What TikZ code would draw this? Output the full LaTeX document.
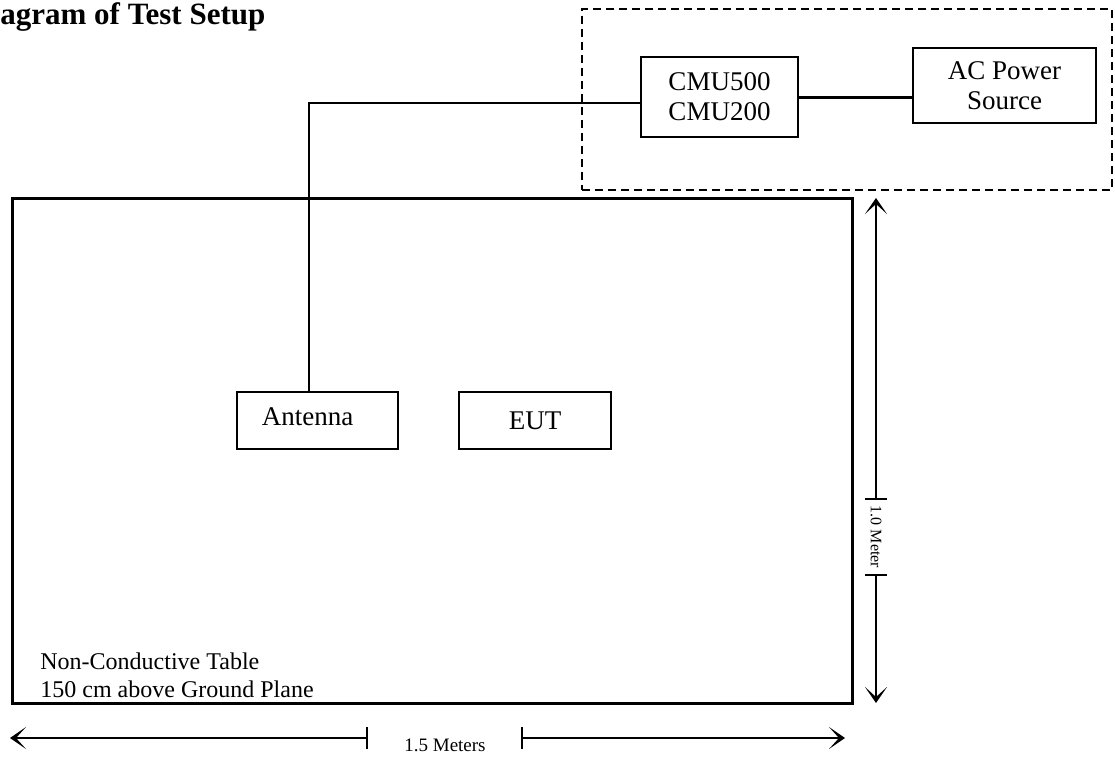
\documentclass[tikz,border=0pt]{standalone}
\usepackage{fontspec}
\setmainfont{Liberation Serif}
\usetikzlibrary{arrows.meta}

\begin{document}
\begin{tikzpicture}[
  x=0.5pt, y=-0.5pt,
  font=\fontsize{13.5}{15}\selectfont,
  unitbox/.style={draw, line width=0.7pt, inner sep=0pt, align=center},
  dimline/.style={line width=0.6pt, -{Stealth[length=8pt, width=11pt, inset=5pt]}},
  dimtick/.style={line width=0.6pt},
  dimtext/.style={font=\fontsize{9.5}{11}\selectfont, inner sep=1pt}
]
\useasboundingbox (0,0) rectangle (1115,760);

% Title
\node[anchor=base west, inner sep=0pt, font=\fontsize{15.5}{18}\selectfont\bfseries] (title) at (0,25) {agram of Test Setup};

% Support equipment (dashed area)
\node[draw, dashed, line width=0.75pt, dash pattern=on 4pt off 2.5pt, minimum width=265pt, minimum height=90.5pt, inner sep=0pt] (bench) at (847,99.5) {};
\node[unitbox, minimum width=78.5pt, minimum height=40pt] (cmu) at (719.5,97) {CMU500\\CMU200};
\node[unitbox, minimum width=91.5pt, minimum height=37.5pt] (ac) at (1004.5,85.5) {AC Power\\Source};

% Table
\node[draw, line width=1.5pt, minimum width=420pt, minimum height=252.5pt, inner sep=0pt] (table) at (432,450.5) {};
\node[anchor=north west, align=left, inner sep=0pt, font=\fontsize{12}{14}\selectfont] (tabletext) at (40,652) {Non-Conductive Table\\150 cm above Ground Plane};

\node[unitbox, minimum width=80.5pt, minimum height=28.5pt] (ant) at (317.5,420.5) {\raisebox{3.5pt}{Antenna}\hspace{10pt}};
\node[unitbox, minimum width=76pt, minimum height=28.5pt] (eut) at (535,420.5) {EUT};

% Cables
\draw[line width=1.5pt] (cmu.east) -- (cmu.east -| ac.west);
\draw[line width=0.7pt] ([yshift=-3pt]cmu.west) -| ([xshift=-4.25pt]ant.north);

% Width 1.5 m
\coordinate (wl) at (367,738);
\coordinate (wr) at (522,738);
\coordinate (wtipl) at (10,738);
\coordinate (wtipr) at (845,738);
\node[dimtext] (wtext) at (445,745) {1.5 Meters};
\draw[dimline] (wl) -- (wtipl);
\draw[dimline] (wr) -- (wtipr);
\draw[dimtick] ([yshift=5.5pt]wl) -- ([yshift=-5.5pt]wl);
\draw[dimtick] ([yshift=5.5pt]wr) -- ([yshift=-5.5pt]wr);

% Depth 1.0 m
\coordinate (ht) at (876,499);
\coordinate (hb) at (876,575);
\coordinate (htipt) at (876,198);
\coordinate (htipb) at (876,703);
\node[dimtext, rotate=-90, font=\fontsize{8}{10}\selectfont] (htext) at (876,537) {1.0 Meter};
\draw[dimline] (ht) -- (htipt);
\draw[dimline] (hb) -- (htipb);
\draw[dimtick] ([xshift=-5.5pt]ht) -- ([xshift=5.5pt]ht);
\draw[dimtick] ([xshift=-5.5pt]hb) -- ([xshift=5.5pt]hb);

\end{tikzpicture}
\end{document}
